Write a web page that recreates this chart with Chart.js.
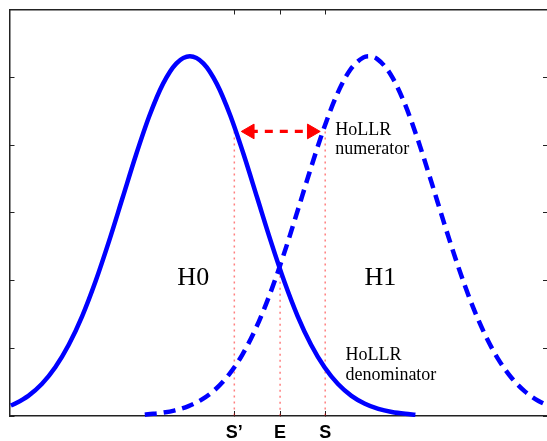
<!DOCTYPE html>
<html>
<head>
<meta charset="utf-8">
<script src="https://cdn.jsdelivr.net/npm/chart.js@4/dist/chart.umd.min.js"></script>
<style>
html,body{margin:0;padding:0;overflow:hidden;background:#fff;}
canvas{display:block;}
</style>
</head>
<body>
<canvas id="c" width="560" height="441"></canvas>
<script>
// ---- data ----
const h0X = [-2.66,-2.6,-2.4,-2.2,-2.0,-1.8,-1.6,-1.4,-1.2,-1.0,-0.8,-0.6,-0.4,-0.2,0,0.2,0.4,0.6,0.8,1.0,1.2,1.4,1.6,1.8,2.0,2.2,2.4,2.6,2.8,3.0,3.2,3.35];
const h0Y = [0.154,0.181,0.298,0.472,0.719,1.051,1.476,1.993,2.585,3.221,3.856,4.435,4.902,5.205,5.31,5.205,4.902,4.435,3.856,3.221,2.585,1.993,1.476,1.051,0.719,0.472,0.298,0.181,0.105,0.059,0.032,0.019];
const h1X = [-0.67,-0.62,-0.42,-0.22,-0.02,0.18,0.38,0.58,0.78,0.98,1.18,1.38,1.58,1.78,1.98,2.18,2.38,2.58,2.66,2.78,2.98,3.18,3.38,3.58,3.78,3.98,4.18,4.38,4.58,4.78,4.98,5.18,5.28];
const h1Y = [0.019,0.025,0.046,0.084,0.146,0.245,0.395,0.611,0.907,1.295,1.776,2.341,2.964,3.605,4.215,4.733,5.106,5.293,5.31,5.272,5.045,4.638,4.098,3.478,2.836,2.222,1.673,1.210,0.840,0.561,0.360,0.222,0.172];
const tickVals = [0.66, 1.34, 2.01];
const tickLabels = ['S\u2019', 'E', 'S'];
const markerLevel = 4.2;      // height of the arrow and of the S', S markers
const crossLevel = 2.16;      // height where H0 and H1 cross (E marker)
const arrowX = [0.89, 1.81];

// ---- annotations (text) ----
const notes = [
  {text:'H0', x:0.05, y:1.93, font:'26px "Liberation Serif"', align:'center'},
  {text:'H1', x:2.83, y:1.93, font:'26px "Liberation Serif"', align:'center'},
  {text:'HoLLR', x:2.16, y:4.15, font:'18px "Liberation Serif"', align:'left'},
  {text:'numerator', x:2.16, y:3.86, font:'18px "Liberation Serif"', align:'left'},
  {text:'HoLLR', x:2.31, y:0.82, font:'18px "Liberation Serif"', align:'left'},
  {text:'denominator', x:2.31, y:0.53, font:'18px "Liberation Serif"', align:'left'}
];

const notesPlugin = {
  id: 'notes',
  afterDatasetsDraw(chart) {
    const {ctx, scales} = chart;
    ctx.save();
    ctx.fillStyle = '#000';
    ctx.textBaseline = 'alphabetic';
    notes.forEach(n => {
      ctx.font = n.font;
      ctx.textAlign = n.align;
      ctx.fillText(n.text, scales.x.getPixelForValue(n.x), scales.y.getPixelForValue(n.y));
    });
    ctx.restore();
  }
};

const pts = (xs, ys) => xs.map((x, i) => ({x, y: ys[i]}));
const vline = (x, top) => [{x, y: top}, {x, y: 0}];
const dotStyle = {borderColor:'rgba(255,0,0,0.5)', borderWidth:1.5, borderDash:[2,4], pointRadius:0, clip:false};

const axisColor = '#222';
const gridOpts = {drawOnChartArea:false, drawTicks:true, tickLength:-5, color:axisColor, lineWidth:1};
const borderOpts = {display:true, color:axisColor, width:1.5};

new Chart(document.getElementById('c'), {
  type: 'line',
  data: {
    datasets: [
      {label:'arrow', data: arrowX.map(x => ({x, y: markerLevel})), borderColor:'#ff0000', borderWidth:3.2, borderDash:[8,7],
       pointStyle:'triangle', pointRotation:[-90, 90], pointRadius:8.5, pointBackgroundColor:'#ff0000', pointBorderColor:'#ff0000', pointBorderWidth:1, clip:false},
      {label:'H0', data: pts(h0X, h0Y), borderColor:'#0000ff', borderWidth:4.5, pointRadius:0, cubicInterpolationMode:'monotone', clip:false},
      {label:'H1', data: pts(h1X, h1Y), borderColor:'#0000ff', borderWidth:4.5, borderDash:[12,7], pointRadius:0, cubicInterpolationMode:'monotone', clip:false},
      Object.assign({label:'S\u2019 marker', data: vline(tickVals[0], markerLevel)}, dotStyle),
      Object.assign({label:'E marker', data: vline(tickVals[1], crossLevel)}, dotStyle),
      Object.assign({label:'S marker', data: vline(tickVals[2], markerLevel)}, dotStyle)
    ]
  },
  options: {
    responsive:false,
    animation:false,
    devicePixelRatio:1,
    layout:{padding:0},
    plugins:{legend:{display:false}, tooltip:{enabled:false}},
    scales:{
      x:{type:'linear', position:'bottom', min:-2.68, max:5.32,
         afterBuildTicks: s => { s.ticks = tickVals.map(v => ({value:v})); },
         afterFit: s => { s.height = 25; },
         ticks:{callback:(v, i) => tickLabels[i], font:{family:'Liberation Sans', weight:'bold', size:18}, color:'#000', padding:11, maxRotation:0, autoSkip:false},
         grid:gridOpts, border:borderOpts},
      x2:{type:'linear', position:'top', min:-2.68, max:5.32,
         afterBuildTicks: s => { s.ticks = tickVals.map(v => ({value:v})); },
         afterFit: s => { s.height = 8; },
         ticks:{display:false},
         grid:gridOpts, border:borderOpts},
      y:{position:'left', min:0, max:6, ticks:{display:false, stepSize:1},
         afterFit: s => { s.width = 9; },
         grid:gridOpts, border:borderOpts},
      y2:{position:'right', min:0, max:6, ticks:{display:false, stepSize:1},
         afterFit: s => { s.width = 12; },
         grid:gridOpts, border:borderOpts}
    }
  },
  plugins:[notesPlugin]
});
</script>
</body>
</html>
